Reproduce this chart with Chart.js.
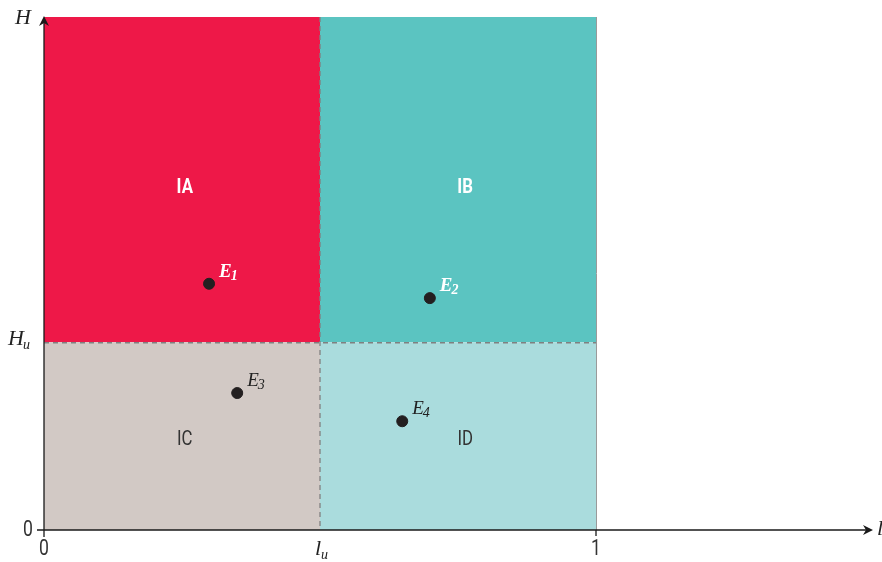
<!DOCTYPE html>
<html lang="en">
<head>
<meta charset="UTF-8">
<title>Regions IA–ID</title>
<style>
  body { margin: 0; background: #fff; }
  #wrap { width: 882px; height: 562px; }
</style>
</head>
<body>
<div id="wrap"><canvas id="myChart" width="882" height="562"></canvas></div>

<script src="https://cdn.jsdelivr.net/npm/chart.js"></script>
<script>
// data
const xMax = 1.5, yMax = 1;
const lu = 0.5, Hu = 0.366;
const regionNames = ['IA', 'IB', 'IC', 'ID'];
const regionX0 = [0, lu, 0, lu];
const regionX1 = [lu, 1, lu, 1];
const regionY0 = [Hu, Hu, 0, 0];
const regionY1 = [1, 1, Hu, Hu];
const regionLabelX = [0.255, 0.763, 0.255, 0.763];
const regionLabelY = [0.667, 0.667, 0.175, 0.175];
const pointNames = ['1', '2', '3', '4'];
const pointX = [0.299, 0.699, 0.35, 0.649];
const pointY = [0.48, 0.452, 0.267, 0.212];

const fills = ['#EE1848', '#5BC4C1', '#D2C9C5', '#AADCDD'];
const labelColors = ['#fff', '#fff', '#333', '#333'];
const labelBold = [true, true, false, false];

const serif = '"Liberation Serif", "DejaVu Serif", serif';
const sans = '"Roboto", "Liberation Sans", sans-serif';

// narrow sans text (the original uses a condensed face)
function narrowText(c, txt, x, y, align) {
  c.save();
  c.translate(x, y);
  c.scale(0.8, 1);
  c.textAlign = align;
  c.fillText(txt, 0, 0);
  c.restore();
}

// draws the coloured rectangles, dashed borders, axes and labels
const diagram = {
  id: 'diagram',
  beforeDatasetsDraw(chart) {
    const c = chart.ctx, xs = chart.scales.x, ys = chart.scales.y;
    c.save();
    for (let i = 0; i < regionNames.length; i++) {
      const x0 = xs.getPixelForValue(regionX0[i]), x1 = xs.getPixelForValue(regionX1[i]);
      const y0 = ys.getPixelForValue(regionY0[i]), y1 = ys.getPixelForValue(regionY1[i]);
      c.fillStyle = fills[i];
      c.fillRect(x0, y1, x1 - x0, y0 - y1);
    }
    // right edge
    c.strokeStyle = '#9a9a9a';
    c.lineWidth = 1;
    c.beginPath();
    c.moveTo(xs.getPixelForValue(1) + 0.5, ys.getPixelForValue(1));
    c.lineTo(xs.getPixelForValue(1) + 0.5, ys.getPixelForValue(0));
    c.stroke();
    // dashed borders
    c.strokeStyle = '#808080';
    c.lineWidth = 1.3;
    c.setLineDash([5, 4]);
    c.beginPath();
    c.moveTo(xs.getPixelForValue(lu), ys.getPixelForValue(1));
    c.lineTo(xs.getPixelForValue(lu), ys.getPixelForValue(0));
    c.moveTo(xs.getPixelForValue(0), ys.getPixelForValue(Hu) + 0.5);
    c.lineTo(xs.getPixelForValue(1), ys.getPixelForValue(Hu) + 0.5);
    c.stroke();
    c.setLineDash([]);

    // region labels
    c.textBaseline = 'middle';
    for (let i = 0; i < regionNames.length; i++) {
      c.fillStyle = labelColors[i];
      c.font = (labelBold[i] ? 'bold ' : '') + '21px ' + sans;
      narrowText(c, regionNames[i], xs.getPixelForValue(regionLabelX[i]), ys.getPixelForValue(regionLabelY[i]), 'center');
    }

    // axes
    const ox = xs.getPixelForValue(0), oy = ys.getPixelForValue(0);
    const ex = xs.getPixelForValue(xMax), ty = ys.getPixelForValue(yMax);
    c.strokeStyle = '#1a1a1a';
    c.fillStyle = '#1a1a1a';
    c.lineWidth = 1.3;
    c.beginPath();
    c.moveTo(ox, oy + 7); c.lineTo(ox, ty + 2);
    c.moveTo(ox - 7, oy); c.lineTo(ex - 2, oy);
    c.moveTo(xs.getPixelForValue(1), oy); c.lineTo(xs.getPixelForValue(1), oy + 6);
    c.stroke();
    c.beginPath();
    c.moveTo(ox, ty - 1); c.lineTo(ox - 5, ty + 9); c.lineTo(ox, ty + 6); c.lineTo(ox + 5, ty + 9); c.closePath();
    c.moveTo(ex + 1, oy); c.lineTo(ex - 9, oy - 5); c.lineTo(ex - 6, oy); c.lineTo(ex - 9, oy + 5); c.closePath();
    c.fill();

    // axis labels
    c.fillStyle = '#333';
    c.font = '22px ' + sans;
    c.textBaseline = 'top';
    narrowText(c, '0', ox, oy + 8, 'center');
    narrowText(c, '1', xs.getPixelForValue(1), oy + 8, 'center');
    c.textBaseline = 'middle';
    narrowText(c, '0', ox - 11, oy, 'right');

    c.fillStyle = '#222';
    c.font = 'italic 22px ' + serif;
    c.textAlign = 'right';
    c.fillText('H', ox - 13, ty + 1);
    c.fillText('H', ox - 20, ys.getPixelForValue(Hu) - 3);
    c.font = 'italic 14px ' + serif;
    c.textAlign = 'left';
    c.fillText('u', ox - 21, ys.getPixelForValue(Hu) + 3);
    c.font = 'italic 22px ' + serif;
    c.fillText('l', ex + 5, oy - 1);
    c.fillText('l', xs.getPixelForValue(lu) - 5, oy + 19);
    c.font = 'italic 14px ' + serif;
    c.fillText('u', xs.getPixelForValue(lu) + 1, oy + 25);
    c.restore();
  },
  afterDatasetsDraw(chart) {
    const c = chart.ctx, xs = chart.scales.x, ys = chart.scales.y;
    c.save();
    c.textBaseline = 'alphabetic';
    c.textAlign = 'left';
    for (let i = 0; i < pointNames.length; i++) {
      const px = xs.getPixelForValue(pointX[i]) + 10;
      const py = ys.getPixelForValue(pointY[i]) - 7;
      const bold = i < 2;
      c.fillStyle = bold ? '#fff' : '#222';
      c.font = (bold ? 'bold ' : '') + 'italic 19px ' + serif;
      c.fillText('E', px, py);
      const w = c.measureText('E').width;
      c.font = (bold ? 'bold ' : '') + 'italic 14px ' + serif;
      c.fillText(pointNames[i], px + w - 1, py + 3);
    }
    c.restore();
  }
};

const ctx = document.getElementById('myChart');
new Chart(ctx, {
  type: 'scatter',
  data: {
    datasets: [{
      data: pointX.map((x, i) => ({ x: x, y: pointY[i] })),
      backgroundColor: '#231F20',
      borderColor: '#231F20',
      pointRadius: 5.5
    }]
  },
  options: {
    responsive: false,
    animation: false,
    layout: { padding: { left: 44, right: 10, top: 17, bottom: 32 } },
    plugins: { legend: { display: false }, tooltip: { enabled: false } },
    scales: {
      x: { type: 'linear', min: 0, max: xMax, display: false },
      y: { type: 'linear', min: 0, max: yMax, display: false }
    }
  },
  plugins: [diagram]
});
</script>
</body>
</html>
